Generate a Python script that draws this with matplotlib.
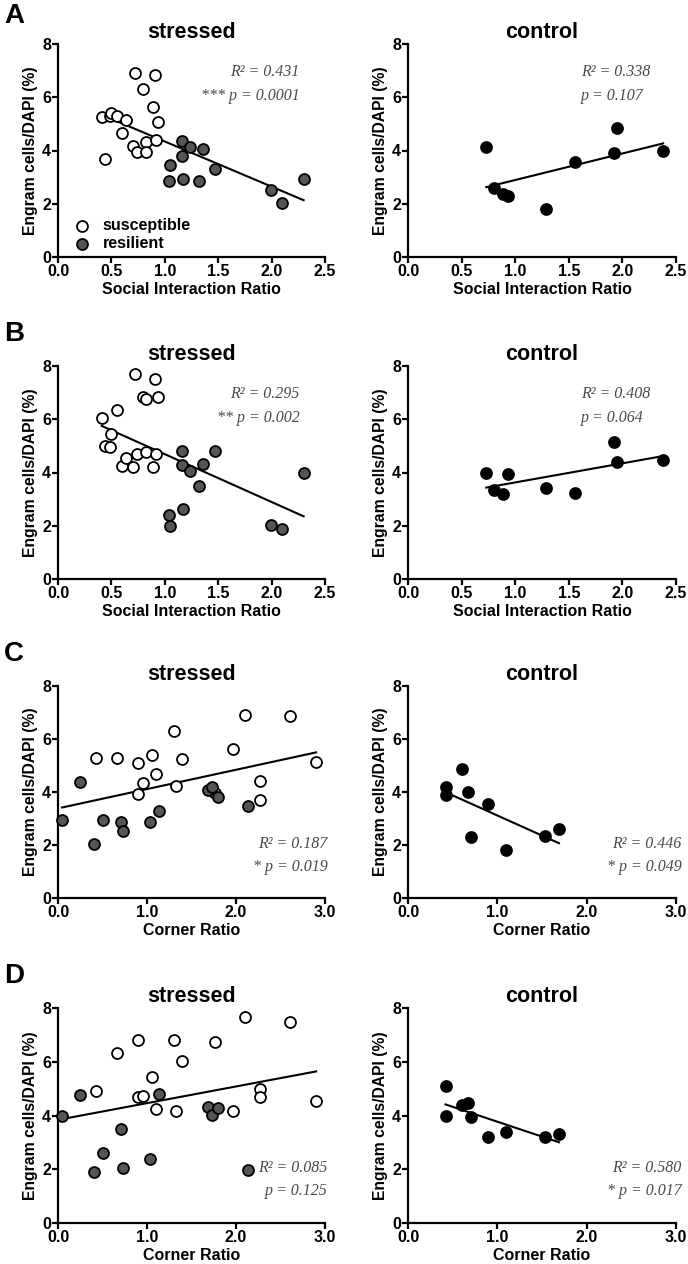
import matplotlib
matplotlib.use("Agg")
import matplotlib.pyplot as plt
import numpy as np

plt.rcParams['font.family'] = ['Liberation Sans', 'DejaVu Sans']
plt.rcParams['font.weight'] = 'bold'

# --- social interaction ratio (A, B) ---
si_sus = [0.41, 0.44, 0.49, 0.50, 0.55, 0.60, 0.64, 0.70, 0.72, 0.74, 0.80, 0.82, 0.82, 0.89, 0.91, 0.92, 0.94]
si_res = [1.04, 1.05, 1.16, 1.16, 1.17, 1.24, 1.32, 1.36, 1.47, 1.99, 2.10, 2.30]
si_ctl = [0.73, 0.80, 0.89, 0.93, 1.29, 1.56, 1.92, 1.95, 2.38]

A_sus = [5.24, 3.68, 5.28, 5.39, 5.29, 4.66, 5.15, 4.16, 6.90, 3.95, 6.30, 4.33, 3.95, 5.62, 6.83, 4.39, 5.07]
A_res = [2.86, 3.47, 4.36, 3.79, 2.92, 4.14, 2.86, 4.05, 3.29, 2.51, 2.03, 2.93]
A_ctl = [4.14, 2.61, 2.36, 2.28, 1.79, 3.55, 3.89, 4.85, 3.99]

B_sus = [6.03, 5.00, 4.94, 5.45, 6.35, 4.26, 4.56, 4.19, 7.70, 4.70, 6.85, 6.75, 4.76, 4.20, 7.53, 4.70, 6.85]
B_res = [2.41, 1.98, 4.79, 4.29, 2.64, 4.04, 3.51, 4.31, 4.81, 2.04, 1.88, 4.00]
B_ctl = [3.98, 3.35, 3.20, 3.94, 3.40, 3.23, 5.13, 4.41, 4.48]

# --- corner ratio (C, D) ---
cr_sus = [0.43, 0.66, 0.90, 0.90, 0.96, 1.06, 1.10, 1.30, 1.33, 1.39, 1.76, 1.97, 2.10, 2.27, 2.27, 2.61, 2.90]
cr_res = [0.045, 0.25, 0.40, 0.50, 0.71, 0.73, 1.03, 1.14, 1.68, 1.73, 1.80, 2.13]
cr_ctl = [0.42, 0.42, 0.60, 0.67, 0.71, 0.89, 1.10, 1.53, 1.69]

C_sus = [5.30, 5.30, 5.09, 3.93, 4.33, 5.40, 4.69, 6.32, 4.21, 5.25, 3.96, 5.63, 6.91, 4.40, 3.71, 6.85, 5.15]
C_res = [2.95, 4.37, 2.05, 2.95, 2.86, 2.51, 2.86, 3.29, 4.06, 4.17, 3.81, 3.49]
C_ctl = [4.17, 3.87, 4.87, 3.99, 2.30, 3.54, 1.80, 2.35, 2.61]

D_sus = [4.91, 6.32, 6.82, 4.68, 4.74, 5.42, 4.23, 6.82, 4.17, 6.01, 6.73, 4.18, 7.66, 4.99, 4.70, 7.48, 4.54]
D_res = [3.98, 4.76, 1.88, 2.62, 3.51, 2.05, 2.40, 4.79, 4.30, 4.02, 4.27, 1.97]
D_ctl = [5.10, 3.98, 4.39, 4.48, 3.93, 3.21, 3.37, 3.21, 3.33]

stats_stressed = [("R² = 0.431", "*** p = 0.0001"), ("R² = 0.295", "** p = 0.002"),
                  ("R² = 0.187", "* p = 0.019"), ("R² = 0.085", "p = 0.125")]
stats_control = [("R² = 0.338", "p = 0.107"), ("R² = 0.408", "p = 0.064"),
                 ("R² = 0.446", "* p = 0.049"), ("R² = 0.580", "* p = 0.017")]

W, H = 688, 1264
fig = plt.figure(figsize=(W / 100, H / 100), dpi=100)

rows_px = [(44, 257), (366, 579), (686, 898), (1008, 1223)]
cols_px = [(58, 325), (408, 676)]
letters = ["A", "B", "C", "D"]
letter_y = [16, 334, 654, 976]


def make_ax(r, c):
    (x0, x1), (y0, y1) = cols_px[c], rows_px[r]
    return fig.add_axes([x0 / W, 1 - y1 / H, (x1 - x0) / W, (y1 - y0) / H])


def style_ax(ax, xlabel, xmax, xstep, title):
    ax.spines['top'].set_visible(False)
    ax.spines['right'].set_visible(False)
    for s in ['left', 'bottom']:
        ax.spines[s].set_linewidth(1.6)
    ax.set_xlim(0, xmax)
    ax.set_ylim(0, 8)
    ticks = np.arange(0, xmax + 0.01, xstep)
    ax.set_xticks(ticks)
    ax.set_xticklabels([f"{v:.1f}" for v in ticks])
    ax.set_yticks([0, 2, 4, 6, 8])
    ax.tick_params(direction='out', length=4, width=1.6, labelsize=11.5, pad=1)
    for lab in ax.get_xticklabels() + ax.get_yticklabels():
        lab.set_fontweight('bold')
    ax.set_xlabel(xlabel, fontsize=11.5, fontweight='bold', labelpad=2)
    ax.set_ylabel("Engram cells/DAPI (%)", fontsize=11.3, fontweight='bold', labelpad=3)
    ax.set_title(title, fontsize=15.5, fontweight='bold', pad=4)


def fit_line(ax, x, y):
    k, b = np.polyfit(x, y, 1)
    xs = np.array([min(x), max(x)])
    ax.plot(xs, k * xs + b, color='black', lw=1.5, zorder=2)


def stat_text(ax, lines, x, ys, ha):
    for t, yy in zip(lines, ys):
        ax.text(x, yy, t, transform=ax.transAxes, ha=ha, va='center',
                fontsize=11.5, family='Liberation Serif', style='italic',
                fontweight='normal', color='#4a4a4a')


panels = [
    (si_sus, si_res, si_ctl, A_sus, A_res, A_ctl, "Social Interaction Ratio", 2.5, 0.5),
    (si_sus, si_res, si_ctl, B_sus, B_res, B_ctl, "Social Interaction Ratio", 2.5, 0.5),
    (cr_sus, cr_res, cr_ctl, C_sus, C_res, C_ctl, "Corner Ratio", 3.0, 1.0),
    (cr_sus, cr_res, cr_ctl, D_sus, D_res, D_ctl, "Corner Ratio", 3.0, 1.0),
]

ms = 62
for r, (xs_s, xs_r, xs_c, ys_s, ys_r, ys_c, xlabel, xmax, xstep) in enumerate(panels):
    ax = make_ax(r, 0)
    style_ax(ax, xlabel, xmax, xstep, "stressed")
    ax.scatter(xs_s, ys_s, s=ms, facecolor='white', edgecolor='black', lw=1.3,
               zorder=3, label='susceptible', clip_on=False)
    ax.scatter(xs_r, ys_r, s=ms, facecolor='#555555', edgecolor='black', lw=1.3,
               zorder=3, label='resilient', clip_on=False)
    fit_line(ax, list(xs_s) + list(xs_r), list(ys_s) + list(ys_r))
    if r < 2:
        stat_text(ax, stats_stressed[r], 0.905, [0.869, 0.757], 'right')
    else:
        stat_text(ax, stats_stressed[r], 1.01, [0.256, 0.148], 'right')
    if r == 0:
        ax.legend(loc='lower left', bbox_to_anchor=(-0.01, -0.025), frameon=False,
                  handletextpad=0.25, labelspacing=0.2, borderpad=0.2,
                  prop={'weight': 'bold', 'size': 11.5})

    ax2 = make_ax(r, 1)
    style_ax(ax2, xlabel, xmax, xstep, "control")
    ax2.scatter(xs_c, ys_c, s=ms, facecolor='black', edgecolor='black', lw=1.3,
                zorder=3, clip_on=False)
    fit_line(ax2, xs_c, ys_c)
    if r < 2:
        stat_text(ax2, stats_control[r], 0.645, [0.869, 0.757], 'left')
    else:
        stat_text(ax2, stats_control[r], 1.02, [0.256, 0.148], 'right')

    fig.text(4 / W, 1 - letter_y[r] / H, letters[r], fontsize=20, fontweight='bold',
             ha='left', va='center')

fig.savefig("out.png", dpi=100)
